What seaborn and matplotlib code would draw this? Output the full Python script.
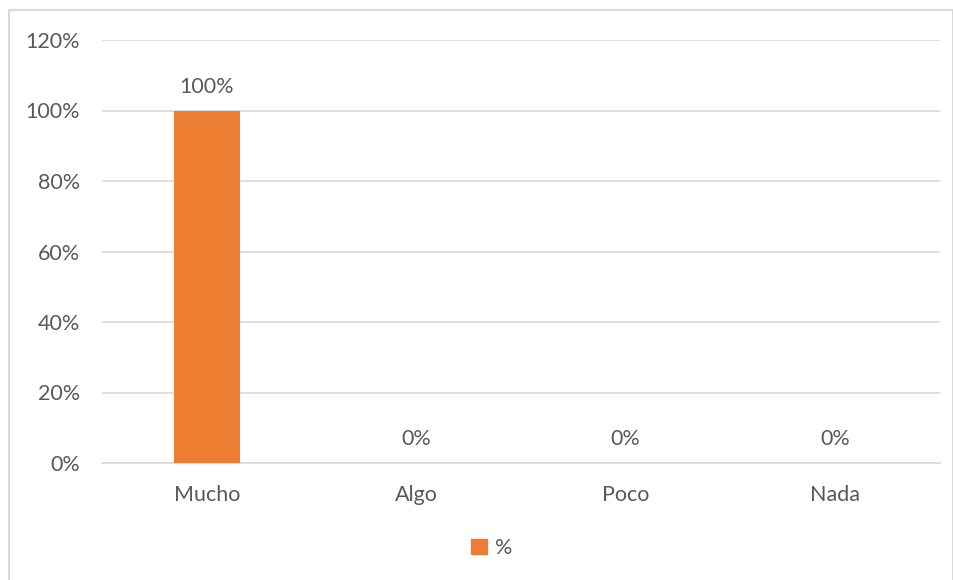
import matplotlib
matplotlib.use("Agg")
import matplotlib.pyplot as plt
from matplotlib.patches import Rectangle
import seaborn as sns
import pandas as pd

categories = ["Mucho", "Algo", "Poco", "Nada"]
values = [100, 0, 0, 0]
value_labels = ["100%", "0%", "0%", "0%"]
y_ticks = [0, 20, 40, 60, 80, 100, 120]
y_tick_labels = ["0%", "20%", "40%", "60%", "80%", "100%", "120%"]
series_name = "%"

df = pd.DataFrame({"categoria": categories, "valor": values})

sns.set_theme(style="white")
plt.rcParams["font.family"] = ["Lato", "DejaVu Sans"]

text_color = "#595959"
grid_color = "#d9d9d9"
bar_color = "#ED7D31"
fsize = 15.5

fig = plt.figure(figsize=(9.54, 5.80), dpi=100)
ax = fig.add_axes([102 / 954, 1 - 463 / 580, 838 / 954, 423 / 580])

sns.barplot(data=df, x="categoria", y="valor", color=bar_color,
            width=0.315, saturation=1, linewidth=0, ax=ax, zorder=3)

ax.set_ylim(0, 120)
ax.set_xlim(-0.5, len(categories) - 0.5)
ax.set_yticks(y_ticks)
ax.set_yticklabels(y_tick_labels)
ax.yaxis.grid(True, color=grid_color, linewidth=1.2, zorder=0)
ax.set_axisbelow(True)
for side in ["top", "right", "left"]:
    ax.spines[side].set_visible(False)
ax.spines["bottom"].set_color(grid_color)
ax.spines["bottom"].set_linewidth(1.2)
ax.set_xlabel("")
ax.set_ylabel("")
ax.tick_params(axis="both", length=0, labelsize=fsize, colors=text_color)
ax.tick_params(axis="y", pad=16)
ax.tick_params(axis="x", pad=16)

for i, (v, lab) in enumerate(zip(values, value_labels)):
    ax.annotate(lab, (i, v), xytext=(0, 10), textcoords="offset points",
                ha="center", va="bottom", fontsize=fsize, color=text_color)

# legend below the plot
handle = Rectangle((0, 0), 1, 1, color=bar_color)
fig.legend([handle], [series_name], loc="center", bbox_to_anchor=(492 / 954, 1 - 548 / 580),
           frameon=False, fontsize=fsize, labelcolor=text_color,
           handlelength=0.7, handleheight=0.7, handletextpad=0.4)

# chart outer border
fig.patches.append(Rectangle((9 / 954, -0.01), 944 / 954, 1 - 10 / 580 + 0.01,
                             transform=fig.transFigure, fill=False,
                             edgecolor=grid_color, linewidth=1.5))

fig.savefig("out.png", dpi=100, facecolor="white")
